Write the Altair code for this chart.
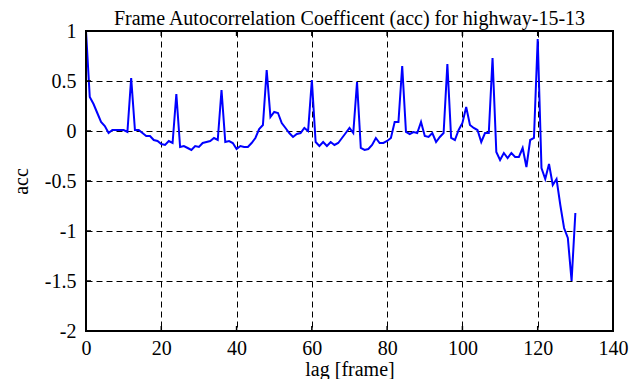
import altair as alt
import pandas as pd

lag = list(range(131))
acc = [
    1.00, 0.34, 0.27, 0.18, 0.09, 0.05, -0.02, 0.01, 0.01, 0.01,
    0.01, -0.01, 0.53, 0.01, 0.01, -0.02, -0.05, -0.05, -0.09, -0.10,
    -0.13, -0.14, -0.10, -0.12, 0.37, -0.16, -0.15, -0.17, -0.19, -0.15,
    -0.16, -0.12, -0.11, -0.10, -0.07, -0.09, 0.41, -0.11, -0.10, -0.12,
    -0.18, -0.15, -0.16, -0.16, -0.12, -0.07, 0.02, 0.06, 0.61, 0.14,
    0.19, 0.18, 0.08, 0.03, -0.02, -0.06, -0.03, -0.02, 0.03, 0.00,
    0.51, -0.11, -0.15, -0.11, -0.15, -0.11, -0.14, -0.12, -0.07, -0.02,
    0.03, -0.02, 0.49, -0.17, -0.19, -0.18, -0.14, -0.07, -0.12, -0.12,
    -0.10, -0.07, 0.09, 0.09, 0.65, -0.01, -0.03, -0.01, -0.02, 0.09,
    -0.05, -0.06, -0.02, -0.11, -0.06, -0.02, 0.67, -0.07, -0.09, 0.01,
    0.08, 0.24, 0.06, 0.03, 0.01, -0.11, -0.02, -0.02, 0.73, -0.21,
    -0.29, -0.22, -0.27, -0.22, -0.26, -0.26, -0.17, -0.36, -0.09, -0.07,
    0.92, -0.37, -0.48, -0.33, -0.54, -0.48, -0.74, -0.97, -1.07, -1.50,
    -0.82,
]
x_ticks = [0, 20, 40, 60, 80, 100, 120, 140]
y_ticks = [-2, -1.5, -1, -0.5, 0, 0.5, 1]

title_text = "Frame Autocorrelation Coefficent (acc) for highway-15-13"
x_title = "lag [frame]"
y_title = "acc"

FONT = "Liberation Serif"
W, H = 527, 300
TL = 5

df = pd.DataFrame({"lag": lag, "acc": acc})
xt = pd.DataFrame({"lag": x_ticks})
yt = pd.DataFrame({"acc": y_ticks})

xscale = alt.Scale(domain=[0, 140], nice=False, zero=False)
yscale = alt.Scale(domain=[-2, 1], nice=False, zero=False)

label_fix = "replace(format(datum.value, '~g'), '\u2212', '-')"

common = dict(
    grid=True, gridDash=[6, 4], gridColor="black", gridOpacity=1, gridWidth=1,
    tickSize=0, domain=False, labelFlush=False,
    labelFont=FONT, labelFontSize=20, labelColor="black",
    titleFont=FONT, titleFontSize=20, titleFontWeight="normal", titleColor="black",
    labelExpr=label_fix,
)
x_axis = alt.Axis(values=x_ticks, title=x_title, labelPadding=7,
                  titleBaseline="alphabetic", titleY=44, **common)
y_axis = alt.Axis(values=y_ticks, title=y_title, labelPadding=10, titlePadding=13, **common)

X = alt.X("lag:Q", scale=xscale, axis=x_axis)
Y = alt.Y("acc:Q", scale=yscale, axis=y_axis)

line = alt.Chart(df).mark_line(color="#0000ff", strokeWidth=2, clip=True).encode(x=X, y=Y)

def xrule(y0, y1):
    return alt.Chart(xt).mark_rule(color="black", strokeWidth=1.5).encode(
        x=X, y=alt.value(y0), y2=alt.value(y1))

def yrule(x0, x1):
    return alt.Chart(yt).mark_rule(color="black", strokeWidth=1.5).encode(
        y=Y, x=alt.value(x0), x2=alt.value(x1))

frame = alt.Chart(xt).mark_rect(fill=None, stroke="black", strokeWidth=2).encode(
    x=alt.value(0), x2=alt.value(W), y=alt.value(0), y2=alt.value(H))

chart = alt.layer(
    line, xrule(0, TL), xrule(H - TL, H), yrule(0, TL), yrule(W - TL, W), frame
).properties(
    width=W, height=H,
    title=alt.Title(title_text, font=FONT, fontSize=20, fontWeight="normal",
                    color="black", anchor="middle", offset=0, dy=8),
    autosize=alt.AutoSizeParams(type="none"),
    padding={"left": 78, "top": 23, "right": 20, "bottom": 48},
).configure_view(stroke=None).configure_axis(
    labelFont=FONT, titleFont=FONT
).configure(background="white")

chart.save("out.html", embed_options={"renderer": "svg", "actions": False})
